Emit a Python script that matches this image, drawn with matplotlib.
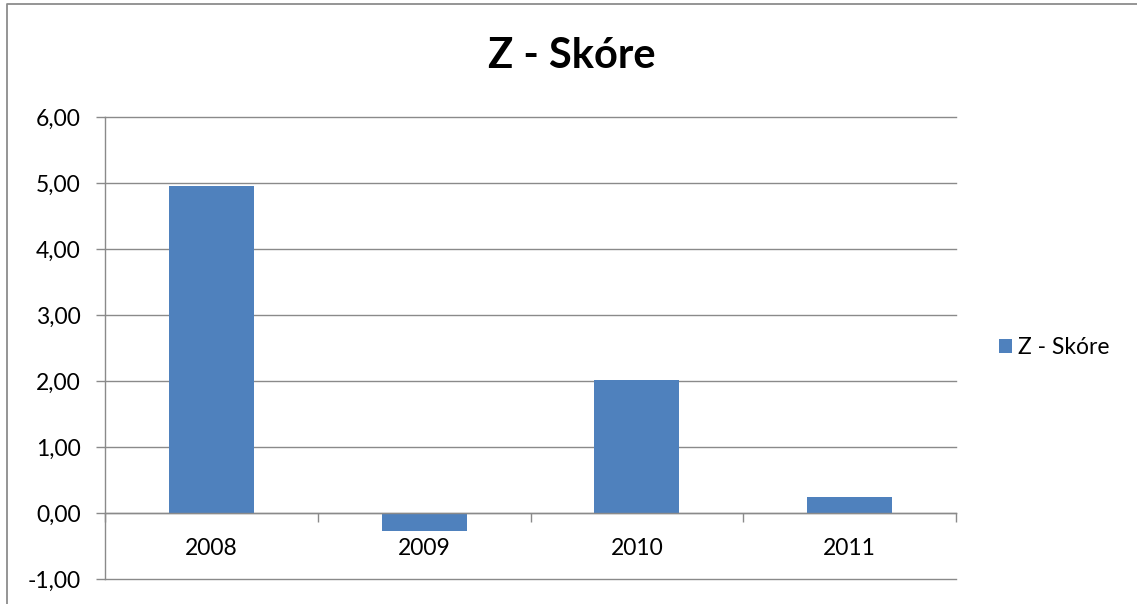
import matplotlib
matplotlib.use("Agg")
import matplotlib.pyplot as plt
from matplotlib.lines import Line2D
from matplotlib.patches import Patch
from matplotlib.ticker import FixedLocator, FuncFormatter

years = ["2008", "2009", "2010", "2011"]
z_score = [4.95, -0.27, 2.02, 0.25]
series_name = "Z - Skóre"
title = "Z - Skóre"

plt.rcParams['font.family'] = ['Lato', 'DejaVu Sans']

W, H = 1137, 604
fig = plt.figure(figsize=(W / 100, H / 100), dpi=100)
fig.patch.set_facecolor("white")

# outer chart frame (left and top edges visible)
fig.add_artist(Line2D([6.5 / W, 6.5 / W, 1.0], [0.0, 1 - 3.5 / H, 1 - 3.5 / H],
                      transform=fig.transFigure, color="#8c8c8c", linewidth=1.3))

ax = fig.add_axes([105 / W, 1 - 579 / H, (956 - 105) / W, (579 - 117) / H])
x = list(range(len(years)))
ax.bar(x, z_score, width=0.4, color="#4F81BD", zorder=3)

grid_c = "#8a8a8a"
ax.set_xlim(-0.5, len(years) - 0.5)
ax.set_ylim(-1, 6)
ax.set_yticks(range(-1, 7))
ax.yaxis.set_major_formatter(FuncFormatter(lambda v, p: f"{v:.2f}".replace(".", ",")))
ax.grid(axis="y", color=grid_c, linewidth=1.0, zorder=0)
for gl in ax.yaxis.get_gridlines():
    gl.set_clip_on(False)

for s in ["top", "right"]:
    ax.spines[s].set_visible(False)
ax.spines["left"].set_color(grid_c)
ax.spines["left"].set_linewidth(1.0)
ax.spines["bottom"].set_position(("data", 0))
ax.spines["bottom"].set_color(grid_c)
ax.spines["bottom"].set_linewidth(1.0)
ax.spines["bottom"].set_zorder(4)

ax.xaxis.set_major_locator(FixedLocator([i - 0.5 for i in range(len(years) + 1)]))
ax.xaxis.set_major_formatter(FuncFormatter(lambda v, p: ""))
ax.xaxis.set_minor_locator(FixedLocator(x))
ax.set_xticklabels(years, minor=True)
ax.tick_params(axis="x", which="major", direction="out", length=6.5, color=grid_c, width=1.0)
ax.tick_params(axis="x", which="minor", length=0, pad=18, labelsize=16.5)
ax.tick_params(axis="y", direction="out", length=6.5, color=grid_c, width=1.0, pad=11, labelsize=16.5)

fig.text(572 / W, 1 - 56 / H, title, ha="center", va="center",
         fontsize=30, fontweight="bold")

handle = Patch(facecolor="#4F81BD", edgecolor="none")
fig.legend([handle], [series_name], loc="center left",
           bbox_to_anchor=(999 / W, 1 - 348 / H), frameon=False,
           handlelength=0.55, handleheight=0.55, handletextpad=0.3,
           borderpad=0, borderaxespad=0, fontsize=16.5)

fig.savefig("out.png", dpi=100, facecolor="white")
